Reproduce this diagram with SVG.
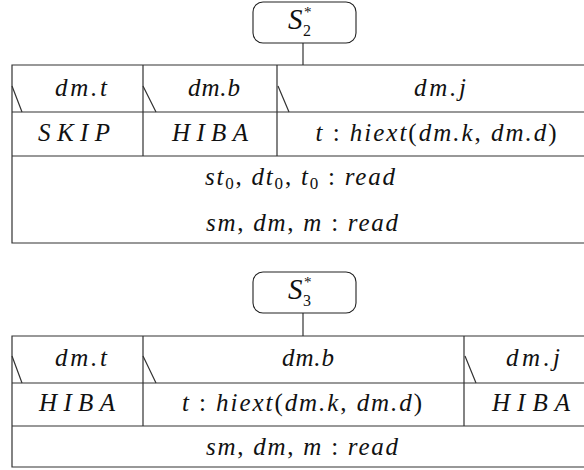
<svg xmlns="http://www.w3.org/2000/svg" width="584" height="470" viewBox="0 0 584 470">
<style>
.ln{stroke:#333;stroke-width:1.2;fill:none}
.bx{stroke:#222;stroke-width:1.1;fill:#fff}
.t{font-family:"Liberation Serif",serif;font-style:italic;font-size:25px;fill:#111;text-anchor:middle}
.s{font-family:"Liberation Serif",serif;font-style:italic;font-size:29px;fill:#111}
.u{font-style:normal}
.sub{font-size:17px;font-style:normal}
.sub2{font-family:"Liberation Serif",serif;font-size:16px;fill:#111}
.sup{font-family:"Liberation Serif",serif;font-size:15px;fill:#111}
</style>
<rect width="584" height="470" fill="#fff"/>
<g id="connectors">
<line class="ln" x1="303" y1="43" x2="303" y2="65"/>
<line class="ln" x1="303" y1="313" x2="303" y2="336"/>
</g>
<g id="s2">
<rect class="bx" x="253" y="2" width="103" height="41" rx="10"/>
<text class="s" x="288" y="29">S</text>
<text class="sub2" x="303" y="36">2</text>
<text class="sup" x="304" y="17">*</text>
</g>
<g id="table1">
<path class="ln" d="M584 65H12V243H584M12 112H584M12 156H584M143 65V156M277 65V156"/>
<path class="ln" d="M12 86L22 112M143 86L156 112M278 86L289 112"/>
<text class="t" x="81" y="96" textLength="52" lengthAdjust="spacing">dm.t</text>
<text class="t" x="214" y="96" textLength="52" lengthAdjust="spacing">dm.b</text>
<text class="t" x="440" y="96" textLength="52" lengthAdjust="spacing">dm.j</text>
<text class="t" x="74" y="141" textLength="72" lengthAdjust="spacing">SKIP</text>
<text class="t" x="210" y="141" textLength="76" lengthAdjust="spacing">HIBA</text>
<text class="t" x="436" y="141" textLength="241" lengthAdjust="spacing">t <tspan class="u">:</tspan> hiext<tspan class="u">(</tspan>dm.k<tspan class="u">,</tspan> dm.d<tspan class="u">)</tspan></text>
<text class="t" x="300" y="185" textLength="190" lengthAdjust="spacing">st<tspan class="sub" dy="4">0</tspan><tspan dy="-4" class="u">,</tspan> dt<tspan class="sub" dy="4">0</tspan><tspan dy="-4" class="u">,</tspan> t<tspan class="sub" dy="4">0</tspan><tspan dy="-4" class="u"> :</tspan> read</text>
<text class="t" x="302" y="231" textLength="192" lengthAdjust="spacing">sm<tspan class="u">,</tspan> dm<tspan class="u">,</tspan> m <tspan class="u">:</tspan> read</text>
</g>
<g id="s3">
<rect class="bx" x="253" y="272" width="103" height="41" rx="10"/>
<text class="s" x="288" y="299">S</text>
<text class="sub2" x="303" y="306">3</text>
<text class="sup" x="304" y="287">*</text>
</g>
<g id="table2">
<path class="ln" d="M584 336H12V467H584M12 383H584M12 426H584M143 336V426M464 336V426"/>
<path class="ln" d="M12 356L22 383M143 356L156 383M465 356L476 383"/>
<text class="t" x="81" y="366" textLength="52" lengthAdjust="spacing">dm.t</text>
<text class="t" x="308" y="366" textLength="52" lengthAdjust="spacing">dm.b</text>
<text class="t" x="533" y="366" textLength="54" lengthAdjust="spacing">dm.j</text>
<text class="t" x="77" y="411" textLength="76" lengthAdjust="spacing">HIBA</text>
<text class="t" x="302" y="411" textLength="240" lengthAdjust="spacing">t <tspan class="u">:</tspan> hiext<tspan class="u">(</tspan>dm.k<tspan class="u">,</tspan> dm.d<tspan class="u">)</tspan></text>
<text class="t" x="531" y="411" textLength="78" lengthAdjust="spacing">HIBA</text>
<text class="t" x="302" y="455" textLength="192" lengthAdjust="spacing">sm<tspan class="u">,</tspan> dm<tspan class="u">,</tspan> m <tspan class="u">:</tspan> read</text>
</g>
</svg>
